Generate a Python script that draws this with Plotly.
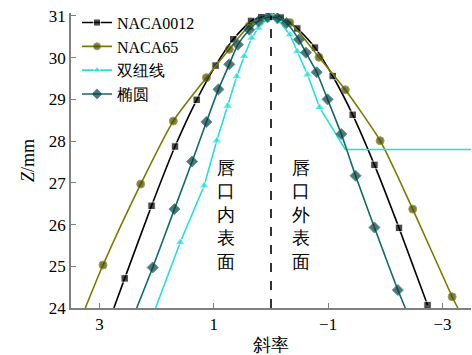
import plotly.graph_objects as go

# ---- data ----
naca0012_x = [2.75, 2.56, 2.09, 1.68, 1.30, 0.97, 0.66, 0.35, 0.17, 0.0, -0.17, -0.46, -0.77, -1.08, -1.43, -1.81, -2.24, -2.74]
naca0012_y = [24.0, 24.71, 26.45, 27.87, 28.99, 29.81, 30.44, 30.88, 30.97, 31.0, 30.96, 30.70, 30.24, 29.56, 28.63, 27.43, 25.92, 24.07]
naca0012_nomark = [0]

naca65_x = [3.25, 2.94, 2.28, 1.71, 1.13, 0.73, 0.38, 0.0, -0.33, -0.84, -1.30, -1.91, -2.48, -3.17, -3.27]
naca65_y = [24.0, 25.03, 26.97, 28.48, 29.52, 30.20, 30.76, 31.0, 30.84, 30.01, 29.23, 28.01, 26.37, 24.27, 24.0]
naca65_nomark = [0, 14]

lem_x = [2.02, 1.59, 1.17, 0.95, 0.76, 0.60, 0.47, 0.34, 0.22, 0.09, 0.0, -0.15, -0.33, -0.46, -0.64, -0.85, -1.30, -3.60]
lem_y = [24.0, 25.57, 26.93, 28.01, 28.84, 29.55, 30.03, 30.47, 30.71, 30.90, 31.0, 30.86, 30.55, 30.15, 29.59, 28.81, 27.80, 27.80]
lem_nomark = [0, 16, 17]

ell_x = [2.35, 2.07, 1.69, 1.38, 1.13, 0.92, 0.73, 0.58, 0.38, 0.22, 0.06, -0.11, -0.27, -0.49, -0.61, -0.80, -0.99, -1.23, -1.48, -1.81, -2.22, -2.35]
ell_y = [24.0, 24.97, 26.37, 27.51, 28.46, 29.24, 29.84, 30.31, 30.67, 30.87, 30.97, 30.95, 30.83, 30.43, 30.12, 29.65, 29.0, 28.17, 27.17, 25.93, 24.43, 24.0]
ell_nomark = [0, 21]

names = ["NACA0012", "NACA65", "双纽线", "椭圆"]
x_ticks = [3, 1, -1, -3]
x_tick_text = ["3", "1", "−1", "−3"]
y_ticks = [24, 25, 26, 27, 28, 29, 30, 31]

FONT = "Times New Roman, Liberation Serif, DejaVu Serif, serif"


def sizes(n, base, nomark):
    return [0 if i in nomark else base for i in range(n)]


series = [
    (naca0012_x, naca0012_y, naca0012_nomark, names[0], "#000000", "#000000", "square", 7.5, "spline"),
    (naca65_x, naca65_y, naca65_nomark, names[1], "#7a7a00", "#474700", "circle", 8, "spline"),
    (lem_x, lem_y, lem_nomark, names[2], "#22e0e0", "#22e0e0", "triangle-up", 9, "linear"),
    (ell_x, ell_y, ell_nomark, names[3], "#0f6a6a", "#0a3c3c", "diamond", 8.5, "spline"),
]

fig = go.Figure()
for xs, ys, nm, name, lc, mc, sym, ms, shape in series:
    fig.add_trace(go.Scatter(
        x=xs, y=ys, name=name, mode="lines+markers",
        line=dict(color=lc, width=1.6, shape=shape, smoothing=0.6),
        marker=dict(symbol=sym, size=sizes(len(xs), ms, nm), color=mc),
        cliponaxis=True,
    ))

fig.add_shape(type="line", x0=0, x1=0, y0=24, y1=31, xref="x", yref="y",
              line=dict(color="black", width=1.6, dash="dash"))

fig.add_annotation(x=0.78, y=26.22, xref="x", yref="y", text="唇<br>口<br>内<br>表<br>面",
                   showarrow=False, font=dict(family=FONT, size=18, color="black"))
fig.add_annotation(x=-0.53, y=26.22, xref="x", yref="y", text="唇<br>口<br>外<br>表<br>面",
                   showarrow=False, font=dict(family=FONT, size=18, color="black"))

fig.update_layout(
    width=472, height=355,
    margin=dict(l=71, r=1, t=13, b=47),
    paper_bgcolor="white", plot_bgcolor="white",
    font=dict(family=FONT, size=17, color="black"),
    showlegend=True,
    legend=dict(x=0.015, y=1.025, xanchor="left", yanchor="top",
                bgcolor="rgba(255,255,255,0)", font=dict(size=16, family=FONT),
                tracegroupgap=0, itemwidth=30),
)
fig.update_xaxes(
    range=[3.5, -3.5], tickvals=x_ticks, ticktext=x_tick_text,
    showgrid=False, zeroline=False, showline=True, linecolor="#808080", linewidth=1.5,
    ticks="inside", ticklen=5, tickcolor="#808080",
    title=dict(text="斜率", font=dict(size=18, family=FONT), standoff=8),
)
fig.update_yaxes(
    range=[24, 31.07], tickvals=y_ticks,
    showgrid=False, zeroline=False, showline=True, linecolor="#808080", linewidth=1.5,
    ticks="inside", ticklen=5, tickcolor="#808080",
    title=dict(text="<i>Z</i>/mm", font=dict(size=18, family=FONT), standoff=10),
)

fig.write_html("out.html")
